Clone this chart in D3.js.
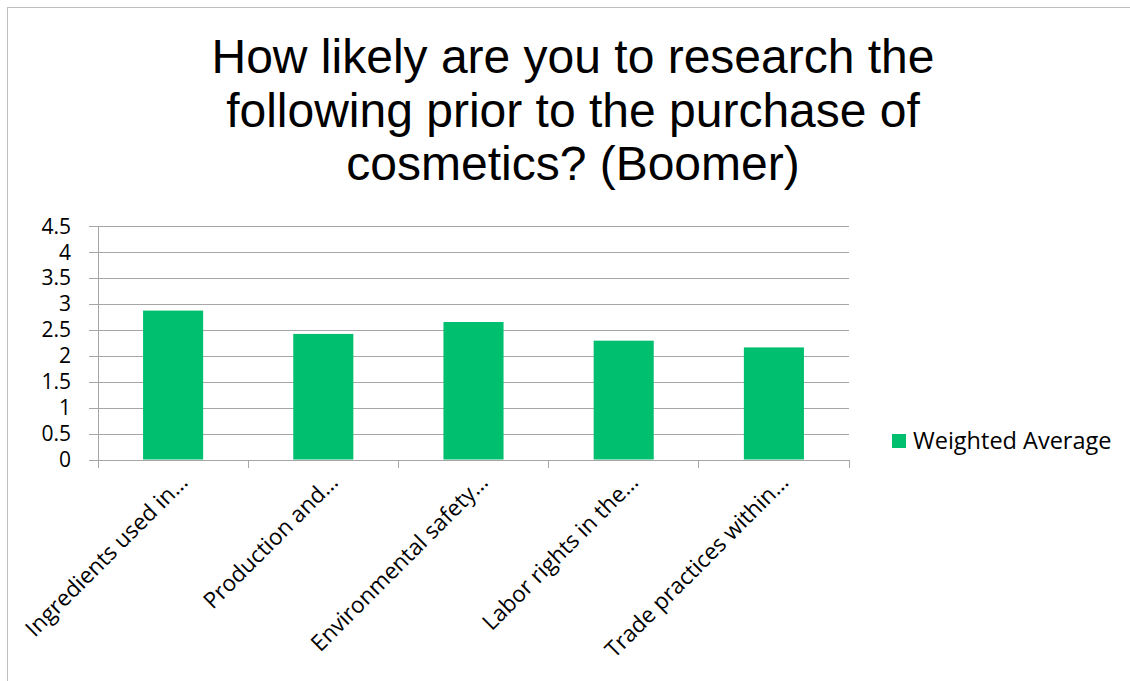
<!DOCTYPE html>
<html>
<head>
<meta charset="utf-8">
<script src="https://cdn.jsdelivr.net/npm/d3@7"></script>
<style>
  html, body { margin: 0; padding: 0; background: #fff; }
  svg { display: block; }
</style>
</head>
<body>
<svg id="chart" width="1130" height="681"></svg>
<script>
// Survey results: weighted average likelihood of research before buying cosmetics
const categories = [
  "Ingredients used in…",
  "Production and…",
  "Environmental safety…",
  "Labor rights in the…",
  "Trade practices within…"
];
const weightedAverage = [2.87, 2.42, 2.65, 2.29, 2.16];
const yTicks = [0, 0.5, 1, 1.5, 2, 2.5, 3, 3.5, 4, 4.5];
const titleLines = [
  "How likely are you to research the",
  "following prior to the purchase of",
  "cosmetics? (Boomer)"
];
const seriesName = "Weighted Average";

const W = 1130, H = 681;
const margin = { left: 98, right: 849, top: 226, bottom: 459.5 };
const barColor = "#00BF6F";
const gridColor = "#a6a6a6";
const labelFont = "'Open Sans', Lato, sans-serif";

const svg = d3.select("#chart");

// outer frame of the chart area
svg.append("rect")
  .attr("x", 7.5).attr("y", 7.5)
  .attr("width", W).attr("height", H)
  .attr("fill", "none").attr("stroke", "#bfbfbf").attr("stroke-width", 1);

// title
svg.append("g")
  .selectAll("text")
  .data(titleLines)
  .join("text")
  .attr("x", 573)
  .attr("y", (d, i) => 73 + i * 53.5)
  .attr("text-anchor", "middle")
  .attr("font-family", "'Liberation Sans', Arial, sans-serif")
  .attr("font-size", 48)
  .attr("fill", "#000")
  .text(d => d);

const x = d3.scaleBand()
  .domain(categories)
  .range([margin.left, margin.right])
  .paddingInner(0.6)
  .paddingOuter(0.3);

const y = d3.scaleLinear()
  .domain([0, 4.5])
  .range([margin.bottom, margin.top]);

// horizontal gridlines with short ticks left of the axis
svg.append("g")
  .attr("transform", `translate(${margin.left},0)`)
  .call(d3.axisLeft(y).tickValues(yTicks).tickSize(-(margin.right - margin.left)).tickFormat(""))
  .call(g => g.select(".domain").remove())
  .call(g => g.selectAll(".tick line")
    .attr("x1", -9)
    .attr("stroke", gridColor)
    .attr("shape-rendering", "crispEdges"));

// y tick labels
svg.append("g")
  .selectAll("text")
  .data(yTicks)
  .join("text")
  .attr("x", 71)
  .attr("y", d => y(d))
  .attr("dy", "0.36em")
  .attr("text-anchor", "end")
  .attr("font-family", labelFont)
  .attr("font-size", 21)
  .attr("fill", "#000")
  .text(d => d);

// vertical axis line
svg.append("line")
  .attr("x1", margin.left).attr("x2", margin.left)
  .attr("y1", y(4.5)).attr("y2", margin.bottom + 8)
  .attr("stroke", gridColor)
  .attr("shape-rendering", "crispEdges");

// category boundary ticks
const boundaries = d3.range(categories.length + 1).map(i => margin.left + i * (margin.right - margin.left) / categories.length);
svg.append("g")
  .selectAll("line")
  .data(boundaries)
  .join("line")
  .attr("x1", d => d).attr("x2", d => d)
  .attr("y1", margin.bottom).attr("y2", margin.bottom + 8)
  .attr("stroke", gridColor)
  .attr("shape-rendering", "crispEdges");

// bars
svg.append("g")
  .selectAll("rect")
  .data(weightedAverage)
  .join("rect")
  .attr("x", (d, i) => x(categories[i]))
  .attr("width", x.bandwidth())
  .attr("y", d => y(d))
  .attr("height", d => y(0) - y(d))
  .attr("fill", barColor);

// rotated category labels
svg.append("g")
  .selectAll("text")
  .data(categories)
  .join("text")
  .attr("transform", d => `translate(${x(d) + x.bandwidth() / 2 + 16},${margin.bottom + 24}) rotate(-45)`)
  .attr("text-anchor", "end")
  .attr("font-family", labelFont)
  .attr("font-size", 22.5)
  .attr("fill", "#000")
  .text(d => d);

// legend
const legend = svg.append("g").attr("transform", "translate(892,434)");
legend.append("rect")
  .attr("width", 14).attr("height", 14)
  .attr("fill", barColor);
legend.append("text")
  .attr("x", 21).attr("y", 7)
  .attr("dy", "0.36em")
  .attr("font-family", labelFont)
  .attr("font-size", 23.5)
  .attr("fill", "#000")
  .text(seriesName);
</script>
</body>
</html>
